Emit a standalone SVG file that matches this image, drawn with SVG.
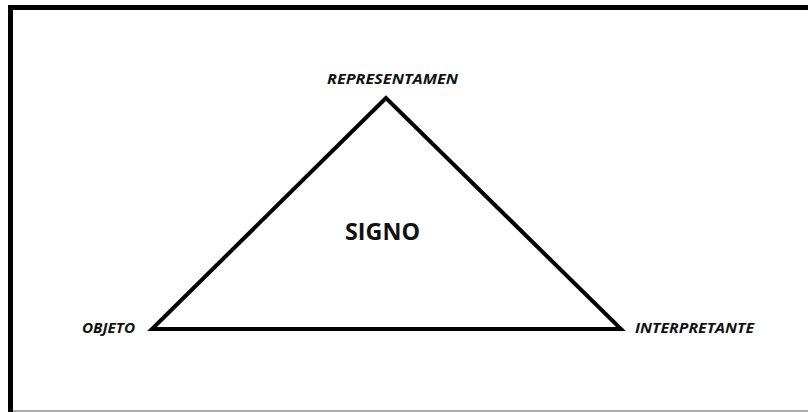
<svg xmlns="http://www.w3.org/2000/svg" width="808" height="412" viewBox="0 0 808 412">
<style>
.lbl{font-family:"Open Sans","Noto Sans","Liberation Sans",sans-serif;font-weight:bold;font-style:italic;font-size:15px;fill:#111}
.main{font-family:"Open Sans","Noto Sans","Liberation Sans",sans-serif;font-weight:bold;font-size:23px;fill:#111}
</style>
<rect x="0" y="0" width="808" height="412" fill="#fff"/>
<g id="frame">
<rect x="8" y="5" width="800" height="5" fill="#000"/>
<rect x="8" y="5" width="5" height="407" fill="#000"/>
<rect x="13" y="410" width="795" height="2" fill="#aaa"/>
</g>
<g id="connectors">
<polygon points="386,98 152,329 621,329" fill="none" stroke="#000" stroke-width="4" stroke-linejoin="miter"/>
</g>
<g id="representamen"><text class="lbl" x="327" y="84" textLength="131" lengthAdjust="spacingAndGlyphs">REPRESENTAMEN</text></g>
<g id="objeto"><text class="lbl" x="82" y="333" textLength="53" lengthAdjust="spacingAndGlyphs">OBJETO</text></g>
<g id="interpretante"><text class="lbl" x="635" y="333" textLength="119" lengthAdjust="spacingAndGlyphs">INTERPRETANTE</text></g>
<g id="signo"><text class="main" x="345" y="240" textLength="75" lengthAdjust="spacingAndGlyphs">SIGNO</text></g>
</svg>
